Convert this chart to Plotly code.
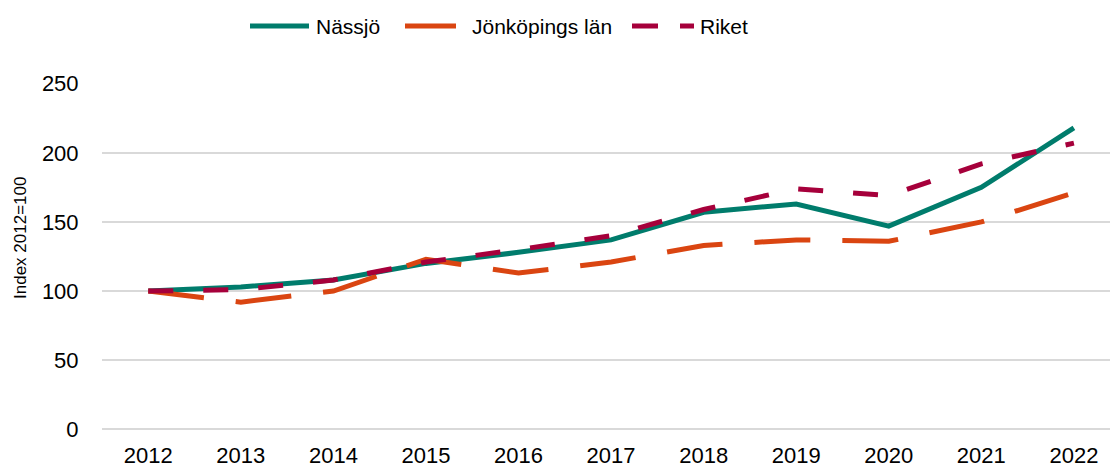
import plotly.graph_objects as go

years = ["2012", "2013", "2014", "2015", "2016", "2017", "2018", "2019", "2020", "2021", "2022"]
nassjo = [100, 103, 108, 120, 128, 137, 157, 163, 147, 175, 218]
jonkoping = [100, 92, 100, 123, 113, 121, 133, 137, 136, 150, 171]
riket = [100, 101, 108, 121, 130, 140, 159, 174, 169, 192, 207]
y_ticks = [0, 50, 100, 150, 200, 250]

series_names = ["Nässjö", "Jönköpings län", "Riket"]
series_colors = ["#007C6C", "#DA4511", "#A6003B"]
series_dash = ["solid", "56px,32px", "25px,30px"]

FONT = "Liberation Sans, Arial, sans-serif"
W, H = 1110, 468
ML, MR, MT, MB = 102, 0, 83, 38
PW, PH = W - ML - MR, H - MT - MB


def px_x(px):
    return (px - ML) / PW


def px_y(py):
    return (H - MB - py) / PH


fig = go.Figure()
for name, vals, col, dash in zip(series_names, [nassjo, jonkoping, riket], series_colors, series_dash):
    fig.add_trace(go.Scatter(x=years, y=vals, name=name, mode="lines",
                             line=dict(color=col, width=5, dash=dash), showlegend=False))

fig.update_layout(
    width=W, height=H,
    margin=dict(l=ML, r=MR, t=MT, b=MB, autoexpand=False),
    plot_bgcolor="white", paper_bgcolor="white",
    font=dict(family=FONT, color="#000000"),
    showlegend=False,
)

fig.update_xaxes(type="category", range=[-0.5, 10.39], showgrid=False, zeroline=False,
                 showline=False, ticks="outside", ticklen=6, tickcolor="rgba(0,0,0,0)",
                 tickfont=dict(size=22, family=FONT, color="#000000"), fixedrange=True)
fig.update_yaxes(range=[-0.5, 250.5], tickvals=y_ticks, showgrid=True, gridcolor="#D9D9D9",
                 gridwidth=1.5, zeroline=True, zerolinecolor="#D9D9D9", zerolinewidth=1.5,
                 showline=False, ticks="outside", ticklen=18,
                 tickcolor="rgba(0,0,0,0)",
                 tickfont=dict(size=22, family=FONT, color="#000000"), fixedrange=True)

fig.add_annotation(text="Index 2012=100", xref="paper", yref="paper", x=px_x(21), y=px_y(238),
                   xanchor="center", yanchor="middle", textangle=-90,
                   showarrow=False, font=dict(size=17, family=FONT, color="#000000"))

# custom legend (line samples + labels)
leg_y = 26
leg_items = [
    (250, 309, 314),
    (405, 456, 470),
    (632, 694, 698),
]
leg_dash = ["solid", "solid", "26px,22px"]
for (x0, x1, tx), name, col, dash in zip(leg_items, series_names, series_colors, leg_dash):
    fig.add_shape(type="line", xref="paper", yref="paper",
                  x0=px_x(x0), x1=px_x(x1), y0=px_y(leg_y), y1=px_y(leg_y),
                  line=dict(color=col, width=5, dash=dash))
    fig.add_annotation(text=name, xref="paper", yref="paper", x=px_x(tx), y=px_y(leg_y),
                       xanchor="left", yanchor="middle", showarrow=False,
                       font=dict(size=21, family=FONT, color="#000000"))

fig.write_html("out.html", config={"displayModeBar": False},
               post_script="document.body.style.margin='0';document.body.style.overflow='hidden';")
